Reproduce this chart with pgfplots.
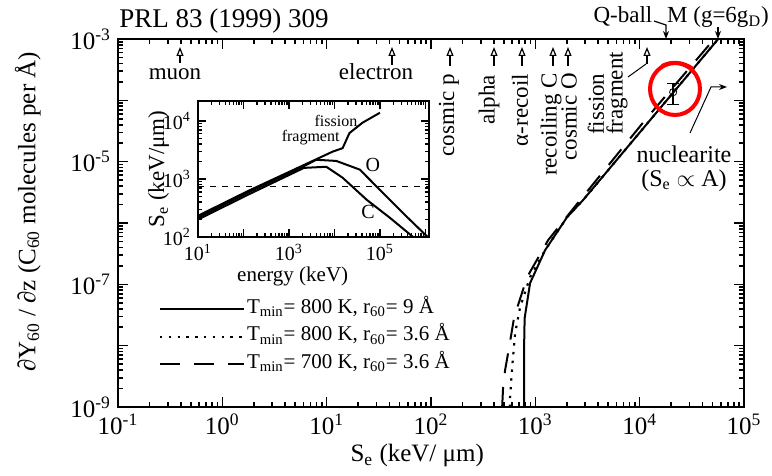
\documentclass[border=0pt]{standalone}
\usepackage{fontspec}
\setmainfont{Liberation Serif}
\usepackage{pgfplots}
\pgfplotsset{compat=1.18}
\usetikzlibrary{arrows.meta}
\newcommand{\fs}[1]{\fontsize{#1}{#1}\selectfont}
\newcommand{\tm}{T\textsubscript{min}}
\newcommand{\rs}{r\textsubscript{60}}

\begin{document}
\begin{tikzpicture}
\path[use as bounding box] (-59pt,-34.5pt) rectangle (327pt,203.5pt);

% main axis
\begin{axis}[
  at={(0,0)}, anchor=south west,
  scale only axis, width=313pt, height=184pt,
  xmode=log, ymode=log,
  xmin=0.1, xmax=1e5, ymin=1e-9, ymax=1e-3,
  xtick={0.1,1,10,100,1000,10000,100000},
  xticklabels={10\textsuperscript{-1},10\textsuperscript{0},10\textsuperscript{1},10\textsuperscript{2},10\textsuperscript{3},10\textsuperscript{4},10\textsuperscript{5}},
  ytick={1e-9,1e-8,1e-7,1e-6,1e-5,1e-4,1e-3},
  yticklabels={10\textsuperscript{-9},,10\textsuperscript{-7},,10\textsuperscript{-5},,10\textsuperscript{-3}},
  tick align=inside,
  major tick length=5pt, minor tick length=2.5pt,
  every tick/.style={black, line width=0.8pt},
  axis line style={line width=1pt},
  tick label style={font=\fs{12.5}},
  xlabel={S\textsubscript{e} (keV/ μm)},
  ylabel={∂Y\textsubscript{60} / ∂z (C\textsubscript{60} molecules per Å)},
  label style={font=\fs{12.5}},
  xlabel style={at={(rel axis cs:0.478,-0.149)}, anchor=base},
  ylabel style={at={(rel axis cs:-0.144,0.53)}, anchor=center},
  clip=false,
  legend style={draw=none, fill=none, at={(rel axis cs:0.055,0.315)}, anchor=north west,
    font=\fs{10.5}, row sep=0pt,
    nodes={inner sep=1pt, text height=8pt, text depth=3.75pt}},
  legend cell align=left,
  legend image code/.code={\draw[#1] (0pt,0pt) -- (42pt,0pt);},
]
% T_min = 800 K, r_60 = 9 A
\addplot[black, line width=1pt] coordinates {
  (781,1e-9) (781,1e-8) (790,2.81e-8) (891,1.05e-7) (1241,3.61e-7)
  (2018,1.25e-6) (2871,2.37e-6) (12620,4.78e-5) (56600,1e-3)
};
\addlegendentry{\tm= 800 K, \rs= 9 Å}
% T_min = 800 K, r_60 = 3.6 A
\addplot[black, line width=1.1pt, dash pattern=on 1.2pt off 3.2pt] coordinates {
  (573,1e-9) (573,1.45e-9) (600,4.46e-9) (640,1.6e-8) (715,4.25e-8)
  (891,1.31e-7) (1241,3.61e-7) (2018,1.25e-6) (2871,2.37e-6)
  (12620,4.78e-5) (56600,1e-3)
};
\addlegendentry{\tm= 800 K, \rs= 3.6 Å}
% T_min = 700 K, r_60 = 3.6 A
\addplot[black, line width=1pt, dash pattern=on 10pt off 7pt] coordinates {
  (481,1e-9) (491,2.1e-9) (513,3.98e-9) (561,9.44e-9) (627,2.92e-8)
  (834,1.31e-7) (1327,5.26e-7) (2460,1.96e-6) (11290,4.78e-5) (51800,1e-3)
};
\addlegendentry{\tm= 700 K, \rs= 3.6 Å}
% measured point
\addplot[forget plot, black, only marks, mark=o, mark size=1.8pt,
  error bars/.cd, y dir=both, y explicit,
  error bar style={line width=0.8pt}, error mark options={rotate=90, mark size=3pt}]
  coordinates {(20950,1.36e-4) +- (0,0.5e-4)};
\end{axis}

% inset
\begin{axis}[
  at={(40pt,85pt)}, anchor=south west,
  scale only axis, width=115.5pt, height=68pt,
  xmode=log, ymode=log,
  xmin=10, xmax=1.2e6, ymin=100, ymax=2.2e4,
  xtick={10,100,1000,10000,100000,1000000},
  xticklabels={10\textsuperscript{1},,10\textsuperscript{3},,10\textsuperscript{5},},
  ytick={100,1000,10000},
  yticklabels={10\textsuperscript{2},10\textsuperscript{3},10\textsuperscript{4}},
  tick align=inside,
  major tick length=4pt, minor tick length=2pt,
  every tick/.style={black, line width=0.7pt},
  axis line style={line width=1pt},
  tick label style={font=\fs{10}},
  xlabel={energy (keV)},
  ylabel={S\textsubscript{e} (keV/μm)},
  label style={font=\fs{10.5}},
  xlabel style={at={(rel axis cs:0.41,-0.33)}, anchor=base},
  ylabel style={at={(rel axis cs:-0.17,0.5)}, anchor=center, font=\fs{11.5}},
  axis background/.style={fill=white},
  clip=false,
]
% C
\addplot[black, line width=1pt] coordinates {
  (10,200) (129,540) (2138,1550) (6607,1620) (15136,1050) (51286,437) (1.66e5,214) (5.37e5,100)
};
% O
\addplot[black, line width=1pt] coordinates {
  (10,215) (129,590) (2138,1660) (3981,2138) (10965,2042) (36308,1445) (1e5,646) (3.24e5,257) (1.12e6,100)
};
% fission fragment
\addplot[black, line width=1pt] coordinates {
  (10,232) (129,625) (2138,1738) (9120,2951) (15136,3388) (21380,6166) (41700,9333) (1e5,13800)
};
\addplot[black, line width=0.6pt, dashed] coordinates {(10,730) (1.2e6,730)};
\node[font=\fs{8}, inner sep=0pt] at (axis cs:10800,9800) {fission};
\node[font=\fs{8}, inner sep=0pt] at (axis cs:3000,5100) {fragment};
\node[font=\fs{10}] at (axis cs:70000,1750) {O};
\node[font=\fs{10}] at (axis cs:55000,270) {C};
\end{axis}

% annotations, in pixel units of the reference
\begin{scope}[x=0.5pt, y=-0.5pt, shift={(-59pt,203.5pt)}]
\node[font=\fs{13.5}, anchor=base] at (224,28) {PRL 83 (1999) 309};
\tikzset{up/.style={-{Triangle[open, length=4.5pt, width=3.5pt]}, line width=0.6pt}}
\foreach \x/\b in {180/63, 392/65, 450/66, 494/66, 522/66, 553/66, 568/66, 647/64}
  \draw[up] (\x,\b) -- (\x,47);
\tikzset{lab/.style={font=\fs{11.5}}, vlab/.style={font=\fs{11.5}, rotate=90, anchor=east}}
\node[lab, anchor=base] at (175,80) {muon};
\node[lab, anchor=base] at (376,80) {electron};
\node[vlab] at (449,67) {cosmic p};
\node[vlab] at (489,68) {alpha};
\node[vlab] at (520,67) {α-recoil};
\node[vlab] at (551,66) {recoiling C};
\node[vlab] at (569,66) {cosmic O};
\node[lab, rotate=90, anchor=west] at (596,142) {fission};
\node[lab, rotate=90, anchor=west] at (617,142) {fragment};
\draw[line width=0.5pt] (628,77) -- (646,64);
% top labels
\node[lab, anchor=base] at (623,23) {Q-ball};
\node[lab, anchor=base] at (718,23) {M (g=6g\textsubscript{D})};
\draw[line width=0.6pt, -{Stealth[length=4pt, width=3pt]}] (654,21) -- (666,25) -- (666,39);
\draw[line width=0.6pt, -{Stealth[length=4pt, width=3pt]}] (718,27) -- (718,39);
% nuclearite
\node[font=\fs{12}, align=center, anchor=north, inner sep=0pt] at (684,145)
  {nuclearite\\[0pt](S\textsubscript{e} $\propto$ A)};
\draw[line width=0.5pt, -{Stealth[length=4pt, width=3pt]}] (690,133) -- (711,87) -- (727,87);
% red circle
\draw[red, line width=2pt] (675,89) ellipse [x radius=12.5pt, y radius=13pt];
\draw[red, line width=2pt] (662,66) .. controls (672,61) and (683,62) .. (693,69);
\end{scope}
\end{tikzpicture}
\end{document}
